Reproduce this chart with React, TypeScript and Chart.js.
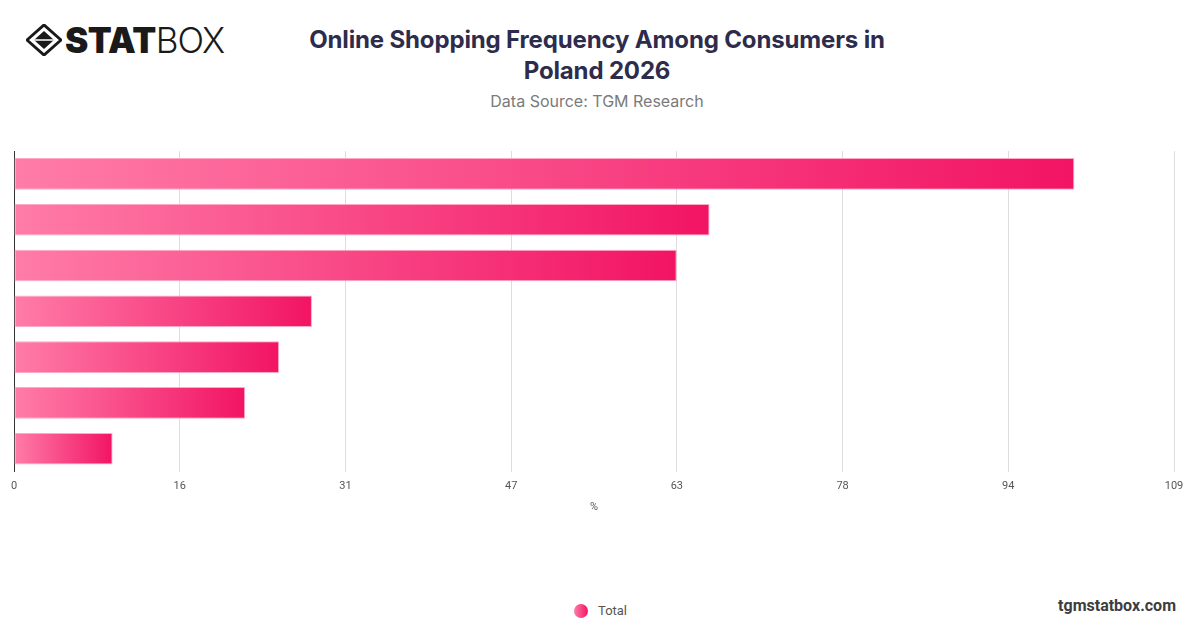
import React, { useEffect, useRef } from "react";
import { Chart, registerables } from "chart.js";

Chart.register(...registerables);

const CATEGORIES = [
  "At least once a year",
  "At least once a quarter",
  "At least once a month",
  "At least once every two weeks",
  "At least once a week",
  "Several times a week",
  "Daily",
];
const SERIES_NAME = "Total";
const VALUES = [100.0, 65.6, 62.5, 28.1, 25.0, 21.8, 9.3];
const X_MAX = 109.4;
const X_STEPS = 7;
const X_TITLE = "%";

const TITLE = "Online Shopping Frequency Among Consumers in Poland 2026";
const SUBTITLE = "Data Source: TGM Research";

const LIGHT = "#ff7ca8";
const DARK = "#f21464";

export default function App() {
  const canvasRef = useRef<HTMLCanvasElement>(null);

  useEffect(() => {
    const canvas = canvasRef.current;
    if (!canvas) return;
    const chart = new Chart(canvas, {
      type: "bar",
      data: {
        labels: CATEGORIES,
        datasets: [
          {
            label: SERIES_NAME,
            data: VALUES,
            backgroundColor: (ctx: any) => {
              const c = ctx.chart;
              const xs = c.scales && c.scales.x;
              if (!xs || ctx.dataIndex === undefined || ctx.type !== "data") return DARK;
              const x0 = xs.getPixelForValue(0);
              const x1 = xs.getPixelForValue(VALUES[ctx.dataIndex]);
              if (!isFinite(x0) || !isFinite(x1) || x1 <= x0) return DARK;
              const g = c.ctx.createLinearGradient(x0, 0, x1, 0);
              g.addColorStop(0, LIGHT);
              g.addColorStop(1, DARK);
              return g;
            },
            borderColor: "rgba(255,160,192,0.9)",
            borderWidth: 1,
            borderSkipped: false,
            barPercentage: 1,
            categoryPercentage: 0.69,
          },
        ],
      },
      options: {
        indexAxis: "y",
        animation: false,
        responsive: false,
        maintainAspectRatio: false,
        layout: { padding: { left: 14, right: 26, top: 11, bottom: 6 } },
        plugins: {
          legend: { display: false },
          title: { display: false },
          tooltip: { enabled: true },
        },
        scales: {
          x: {
            type: "linear",
            min: 0,
            max: X_MAX,
            afterBuildTicks: (scale: any) => {
              const t = [];
              for (let i = 0; i <= X_STEPS; i++) t.push({ value: (X_MAX * i) / X_STEPS });
              scale.ticks = t;
            },
            ticks: {
              callback: (v: any) => String(Math.round(Number(v))),
              color: "#555",
              font: { family: "Roboto, 'Noto Sans', sans-serif", size: 11 },
              padding: 8,
              maxRotation: 0,
            },
            grid: { color: "#dddddd", lineWidth: 1, drawTicks: false },
            border: { display: false },
            title: {
              display: true,
              text: X_TITLE,
              color: "#555",
              font: { family: "Roboto, 'Noto Sans', sans-serif", size: 11 },
              padding: { top: 0, bottom: 0 },
            },
          },
          y: {
            ticks: { display: false },
            grid: { color: "transparent", drawTicks: false },
            border: { display: true, color: "#333333", width: 1 },
          },
        },
      },
    });
    return () => chart.destroy();
  }, []);

  return (
    <div
      style={{
        position: "absolute",
        left: 0,
        top: 0,
        width: 1200,
        height: 628,
        background: "#ffffff",
        overflow: "hidden",
        fontFamily: "Inter, 'Noto Sans', sans-serif",
      }}
    >
      {/* Logo */}
      <div style={{ position: "absolute", left: 26, top: 22, height: 36, display: "flex", alignItems: "center" }}>
        <svg width="36" height="32" viewBox="0 0 36 32" style={{ marginRight: 3 }}>
          <polygon points="18,1 35,16 18,31 1,16" fill="none" stroke="#1a1a1a" strokeWidth="3" strokeLinejoin="round" />
          <polygon points="18,7 28,16 18,25 8,16" fill="#1a1a1a" />
          <line x1="8" y1="16" x2="28" y2="16" stroke="#fff" strokeWidth="1.5" />
        </svg>
        <span style={{ fontSize: 35, fontWeight: 900, color: "#1a1a1a", letterSpacing: -0.5, lineHeight: "36px" }}>STAT</span>
        <span style={{ fontSize: 35, fontWeight: 300, color: "#1a1a1a", letterSpacing: -1, lineHeight: "36px" }}>BOX</span>
      </div>

      {/* Title */}
      <div
        style={{
          position: "absolute",
          left: 290,
          width: 614,
          top: 24,
          textAlign: "center",
          fontSize: 24,
          fontWeight: 700,
          lineHeight: "31px",
          color: "#2e2c4c",
          letterSpacing: -0.15,
        }}
      >
        {TITLE}
      </div>
      <div
        style={{
          position: "absolute",
          left: 297,
          width: 600,
          top: 91,
          textAlign: "center",
          fontSize: 16,
          fontWeight: 400,
          color: "#7a7a7a",
          lineHeight: "20px",
        }}
      >
        {SUBTITLE}
      </div>

      <canvas
        ref={canvasRef}
        width={1200}
        height={380}
        style={{ position: "absolute", left: 0, top: 140, width: 1200, height: 380 }}
      />

      {/* Legend */}
      <div style={{ position: "absolute", left: 574, top: 603, display: "flex", alignItems: "center" }}>
        <span
          style={{
            display: "inline-block",
            width: 14,
            height: 14,
            borderRadius: 7,
            background: `linear-gradient(90deg, ${LIGHT}, ${DARK})`,
            marginRight: 10,
          }}
        />
        <span style={{ fontFamily: "Roboto, 'Noto Sans', sans-serif", fontSize: 13, color: "#555" }}>{SERIES_NAME}</span>
      </div>

      <div
        style={{
          position: "absolute",
          right: 24,
          top: 596,
          fontSize: 16,
          fontWeight: 700,
          color: "#3d3d3d",
          fontFamily: "Roboto, 'Noto Sans', sans-serif",
        }}
      >
        tgmstatbox.com
      </div>
    </div>
  );
}
